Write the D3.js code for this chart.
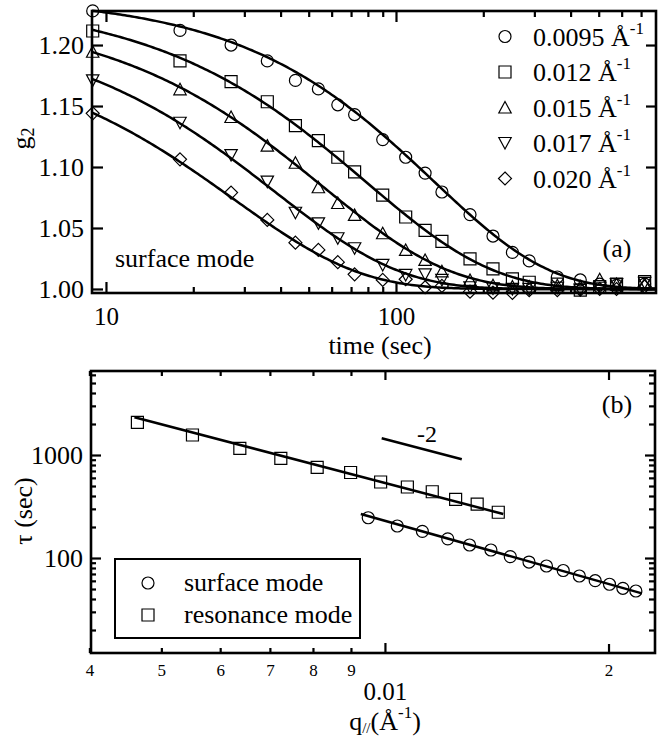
<!DOCTYPE html>
<html>
<head>
<meta charset="utf-8">
<script src="https://cdn.jsdelivr.net/npm/d3@7"></script>
<style>
html, body { margin: 0; padding: 0; background: #fff; }
svg { display: block; }
svg text { font-family: "Liberation Serif", "DejaVu Serif", "Times New Roman", serif !important; }
</style>
</head>
<body>
<svg id="chart" width="668" height="738"></svg>
<script>
// ---- panel (a): g2 vs time ----
var times = [9, 18, 27, 36, 45, 54, 63, 72, 90, 108, 126, 144, 180, 216, 252, 288, 360, 432, 504, 576, 720];
var g2q0095 = [1.228, 1.212, 1.200, 1.187, 1.171, 1.164, 1.151, 1.143, 1.1225, 1.108, 1.095, 1.0795, 1.061, 1.0434, 1.030, 1.023, 1.0098, 1.0074, 1.004, 1.003, 1.004];
var g2q012 = [1.2115, 1.187, 1.170, 1.1535, 1.134, 1.1216, 1.108, 1.096, 1.077, 1.059, 1.048, 1.039, 1.0246, 1.0164, 1.0082, 1.0055, 1.004, 0.999, 1.002, 1.004, 1.006];
var g2q015 = [1.1945, 1.1637, 1.141, 1.1175, 1.1035, 1.0834, 1.0705, 1.0607, 1.0457, 1.032, 1.0238, 1.0145, 1.0074, 1.003, 1.002, 1.002, 1.003, 1.002, 1.008, 1.004, 1.004];
var g2q017 = [1.171, 1.1363, 1.1098, 1.088, 1.0625, 1.0538, 1.0416, 1.0334, 1.0197, 1.0115, 1.012, 1.0074, 1.0014, 1.0005, 1.000, 1.000, 1.001, 0.9995, 1.001, 1.004, 1.005];
var g2q020 = [1.144, 1.1063, 1.079, 1.0566, 1.038, 1.032, 1.022, 1.012, 1.0074, 1.008, 1.0014, 1.0025, 0.9978, 0.997, 0.9968, 0.999, 0.999, 0.9995, 1.000, 1.000, 1.002];
var qLabels = ["0.0095", "0.012", "0.015", "0.017", "0.020"];
var qMarkers = ["circle", "square", "triangle", "triangleDown", "diamond"];
// stretched exponential fits: g2 = 1 + amp * exp(-(t/tau)^stretch)
var fitAmp = [0.24, 0.238, 0.228, 0.218, 0.2];
var fitTau = [135, 79, 56, 38, 27.6];
var fitStretch = [1.1, 1, 1, 1, 1];
var timeMajor = [10, 100];
var timeMinor = [20, 30, 40, 50, 60, 70, 80, 90, 200, 300, 400, 500, 600, 700];
var g2Ticks = [1.00, 1.05, 1.10, 1.15, 1.20];

// ---- panel (b): tau vs q ----
var surfaceQ = [0.009495, 0.01039, 0.01123, 0.01215, 0.01300, 0.01389, 0.01475, 0.01563, 0.01650, 0.01738, 0.01827, 0.01919, 0.02006, 0.02091, 0.02177];
var surfaceTau = [246, 204.6, 181.6, 153.6, 133.7, 119.6, 103, 91.4, 83.6, 75.6, 66.9, 60.2, 55.6, 50.8, 47.8];
var resonanceQ = [0.004642, 0.005506, 0.006377, 0.007241, 0.008105, 0.008990, 0.009867, 0.01072, 0.01158, 0.01245, 0.01331, 0.01421];
var resonanceTau = [2077, 1564, 1162, 929, 760, 676, 547, 489, 440, 371, 333, 278];
var surfaceFitQ = [0.00928, 0.02218];
var surfaceFitTau = [267, 45.4];
var resonanceFitQ = [0.0046, 0.01443];
var resonanceFitTau = [2323, 267.5];
var slopeQ = [0.0099, 0.01269];
var slopeTau = [1452, 908];
var qMinorTicks = [0.004, 0.005, 0.006, 0.007, 0.008, 0.009];
var qMajorTicks = [0.01, 0.02];
var tauMajor = [100, 1000];
var tauMinor = [20, 30, 40, 50, 60, 70, 80, 90, 200, 300, 400, 500, 600, 700, 800, 900, 2000, 3000, 4000, 5000, 6000];

var svg = d3.select("#chart");

function markerPath(type) {
    switch (type) {
        case "circle": return "M6,0A6,6 0 1,1 -6,0A6,6 0 1,1 6,0Z";
        case "square": return "M-6,-6H6V6H-6Z";
        case "triangle": return "M0,-6L6.2,5.5L-6.2,5.5Z";
        case "triangleDown": return "M0,6L6.2,-5.5L-6.2,-5.5Z";
        default: return "M0,-6.5L6.5,0L0,6.5L-6.5,0Z";
    }
}

function addMarkers(g, pts, type) {
    g.selectAll(null).data(pts).enter().append("path")
        .attr("d", markerPath(type))
        .attr("transform", function (d) { return "translate(" + d[0] + "," + d[1] + ")"; })
        .attr("fill", "none").attr("stroke", "#000").attr("stroke-width", 1.2);
}

function drawAxis(g, axisFn, scale, values, size, fmt, pad, fontSize) {
    var ax = axisFn(scale).tickValues(values).tickSizeInner(size).tickSizeOuter(0).tickPadding(pad).tickFormat(fmt);
    g.call(ax);
    g.attr("font-family", null);
    g.select(".domain").remove();
    g.selectAll(".tick line").attr("stroke", "#000").attr("stroke-width", 2.2);
    g.selectAll(".tick text").attr("font-size", fontSize).attr("fill", "#000");
}

function text(x, y, str, size, anchor) {
    return svg.append("text").attr("x", x).attr("y", y).text(str)
        .attr("font-size", size)
        .attr("text-anchor", anchor || "start").attr("fill", "#000");
}

var none = function () { return ""; };

// ================= panel (a) =================
var xa = d3.scaleLog().domain([8.95, 788]).range([92, 656]);
var ya = d3.scaleLinear().domain([0.9967, 1.2279]).range([293, 11]);
var pa = svg.append("g");

drawAxis(pa.append("g").attr("transform", "translate(0,293)"), d3.axisBottom, xa, timeMajor, -11, d3.format("d"), 14, 25);
drawAxis(pa.append("g").attr("transform", "translate(0,293)"), d3.axisBottom, xa, timeMinor, -6, none, 0, 0);
drawAxis(pa.append("g").attr("transform", "translate(0,11)"), d3.axisTop, xa, timeMajor, -11, none, 0, 0);
drawAxis(pa.append("g").attr("transform", "translate(0,11)"), d3.axisTop, xa, timeMinor, -6, none, 0, 0);
drawAxis(pa.append("g").attr("transform", "translate(92,0)"), d3.axisLeft, ya, g2Ticks, -11, d3.format(".2f"), 8, 26);
drawAxis(pa.append("g").attr("transform", "translate(656,0)"), d3.axisRight, ya, g2Ticks, -10, none, 0, 0);

pa.append("rect").attr("x", 92).attr("y", 11).attr("width", 564).attr("height", 282)
    .attr("fill", "none").attr("stroke", "#000").attr("stroke-width", 2.6);

var seriesA = [g2q0095, g2q012, g2q015, g2q017, g2q020];
var tDom = xa.domain();
var tSamples = d3.range(0, 241).map(function (i) { return tDom[0] * Math.pow(tDom[1] / tDom[0], i / 240); });
var fitLine = d3.line().x(function (d) { return xa(d[0]); }).y(function (d) { return ya(d[1]); });

seriesA.forEach(function (vals, k) {
    var fit = tSamples.map(function (t) {
        return [t, 1 + fitAmp[k] * Math.exp(-Math.pow(t / fitTau[k], fitStretch[k]))];
    });
    pa.append("path").attr("d", fitLine(fit)).attr("fill", "none").attr("stroke", "#000").attr("stroke-width", 2.5);
});
seriesA.forEach(function (vals, k) {
    addMarkers(pa, vals.map(function (v, i) { return [xa(times[i]), ya(v)]; }), qMarkers[k]);
});

// legend (a)
qLabels.forEach(function (lab, k) {
    var cy = 36.5 + k * 35.5;
    addMarkers(pa, [[505, cy]], qMarkers[k]);
    var t = text(533, cy + 9, lab + " Å", 26);
    t.append("tspan").attr("dy", -12).attr("font-size", 17).text("-1");
});

text(115, 267, "surface mode", 26);
text(617, 257, "(a)", 26, "middle");
text(380, 353.5, "time (sec)", 26, "middle");
var gl = svg.append("text").attr("transform", "translate(30,138.5) rotate(-90)")
    .attr("text-anchor", "middle").attr("font-size", 26).attr("fill", "#000");
gl.append("tspan").text("g");
gl.append("tspan").attr("font-size", 18).attr("dy", 4).text("2");

// ================= panel (b) =================
var xb = d3.scaleLog().domain([0.00402, 0.0231]).range([91, 655]);
var yb = d3.scaleLog().domain([11.96, 6540]).range([653, 371]);
var pb = svg.append("g");

var smallFmt = function (q) { return q === 0.02 ? "2" : String(Math.round(q * 1000)); };
drawAxis(pb.append("g").attr("transform", "translate(0,653)"), d3.axisBottom, xb, qMinorTicks, -5, smallFmt, 10.5, 17);
drawAxis(pb.append("g").attr("transform", "translate(0,653)"), d3.axisBottom, xb, [0.02], -9, smallFmt, 10.5, 17);
drawAxis(pb.append("g").attr("transform", "translate(0,653)"), d3.axisBottom, xb, [0.01], -10, function () { return "0.01"; }, 29, 25);
drawAxis(pb.append("g").attr("transform", "translate(0,371)"), d3.axisTop, xb, qMinorTicks, -5, none, 0, 0);
drawAxis(pb.append("g").attr("transform", "translate(0,371)"), d3.axisTop, xb, qMajorTicks, -9, none, 0, 0);
drawAxis(pb.append("g").attr("transform", "translate(91,0)"), d3.axisLeft, yb, tauMajor, -10, d3.format("d"), 8, 26);
drawAxis(pb.append("g").attr("transform", "translate(91,0)"), d3.axisLeft, yb, tauMinor, -5, none, 0, 0);
drawAxis(pb.append("g").attr("transform", "translate(655,0)"), d3.axisRight, yb, tauMajor, -10, none, 0, 0);
drawAxis(pb.append("g").attr("transform", "translate(655,0)"), d3.axisRight, yb, tauMinor, -6, none, 0, 0);

pb.append("rect").attr("x", 91).attr("y", 371).attr("width", 564).attr("height", 282)
    .attr("fill", "none").attr("stroke", "#000").attr("stroke-width", 2.6);

var lineB = d3.line().x(function (d) { return xb(d[0]); }).y(function (d) { return yb(d[1]); });
function pairs(xs, ys) { return xs.map(function (x, i) { return [x, ys[i]]; }); }

pb.append("path").attr("d", lineB(pairs(resonanceFitQ, resonanceFitTau))).attr("fill", "none").attr("stroke", "#000").attr("stroke-width", 2.5);
pb.append("path").attr("d", lineB(pairs(surfaceFitQ, surfaceFitTau))).attr("fill", "none").attr("stroke", "#000").attr("stroke-width", 2.5);
pb.append("path").attr("d", lineB(pairs(slopeQ, slopeTau))).attr("fill", "none").attr("stroke", "#000").attr("stroke-width", 2.5);

addMarkers(pb, pairs(resonanceQ, resonanceTau).map(function (d) { return [xb(d[0]), yb(d[1])]; }), "square");
addMarkers(pb, pairs(surfaceQ, surfaceTau).map(function (d) { return [xb(d[0]), yb(d[1])]; }), "circle");

text(427, 442, "-2", 24, "middle");
text(617, 413, "(b)", 26, "middle");

// legend (b)
pb.append("rect").attr("x", 115).attr("y", 559).attr("width", 245).attr("height", 79)
    .attr("fill", "none").attr("stroke", "#000").attr("stroke-width", 2);
addMarkers(pb, [[148, 583]], "circle");
addMarkers(pb, [[148, 615]], "square");
text(184, 591, "surface mode", 26);
text(184, 623, "resonance mode", 26);

svg.append("text").attr("transform", "translate(32,511) rotate(-90)")
    .attr("text-anchor", "middle").attr("font-size", 26).attr("fill", "#000")
    .text("τ (sec)");

var qt = svg.append("text").attr("x", 385).attr("y", 730).attr("text-anchor", "middle")
    .attr("font-size", 26).attr("fill", "#000");
qt.append("tspan").text("q");
qt.append("tspan").attr("font-size", 15).attr("dy", 3).text("//");
qt.append("tspan").attr("dy", -3).text("(Å");
qt.append("tspan").attr("font-size", 17).attr("dy", -12).text("-1");
qt.append("tspan").attr("dy", 12).text(")");
</script>
</body>
</html>
